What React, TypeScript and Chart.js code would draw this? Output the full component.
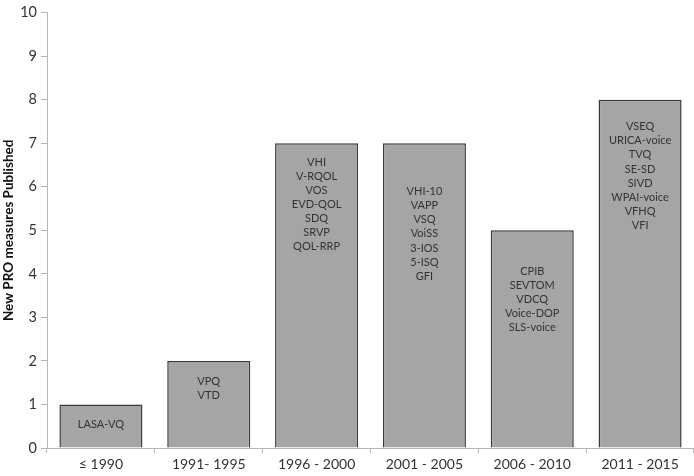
import React, { useEffect, useRef } from "react";
import { Chart, registerables } from "chart.js";

Chart.register(...registerables);

const categories = ["≤ 1990", "1991- 1995", "1996 - 2000", "2001 - 2005", "2006 - 2010", "2011 - 2015"];
const counts = [1, 2, 7, 7, 5, 8];
const measures: string[][] = [
  ["LASA-VQ"],
  ["VPQ", "VTD"],
  ["VHI", "V-RQOL", "VOS", "EVD-QOL", "SDQ", "SRVP", "QOL-RRP"],
  ["VHI-10", "VAPP", "VSQ", "VoiSS", "3-IOS", "5-ISQ", "GFI"],
  ["CPIB", "SEVTOM", "VDCQ", "Voice-DOP", "SLS-voice"],
  ["VSEQ", "URICA-voice", "TVQ", "SE-SD", "SIVD", "WPAI-voice", "VFHQ", "VFI"],
];
// value (y-axis units) at which the first label line sits inside each bar
const labelStart = [0.54, 1.53, 6.57, 5.89, 4.06, 7.38];

const FONT = "Lato, 'Open Sans', sans-serif";

const barText = {
  id: "barText",
  afterDatasetsDraw(chart: any) {
    const ctx = chart.ctx;
    const meta = chart.getDatasetMeta(0);
    const y = chart.scales.y;
    ctx.save();
    ctx.font = `11px ${FONT}`;
    ctx.fillStyle = "#333333";
    ctx.textAlign = "center";
    ctx.textBaseline = "middle";
    meta.data.forEach((bar: any, i: number) => {
      const y0 = y.getPixelForValue(labelStart[i]);
      measures[i].forEach((t, j) => {
        ctx.fillText(t, bar.x, y0 + j * 14.1);
      });
    });
    ctx.restore();
  },
};

export default function App() {
  const ref = useRef<HTMLCanvasElement>(null);
  useEffect(() => {
    document.body.style.margin = "0";
    const chart = new Chart(ref.current!, {
      type: "bar",
      data: {
        labels: categories,
        datasets: [
          {
            data: counts,
            backgroundColor: "#a5a5a5",
            borderColor: "#3a3a3a",
            borderWidth: 1.5,
            barPercentage: 0.77,
            categoryPercentage: 1,
          },
        ],
      },
      options: {
        animation: false,
        responsive: false,
        layout: { padding: { top: 5, right: 0, left: 0, bottom: 0 } },
        plugins: { legend: { display: false }, tooltip: { enabled: false } },
        scales: {
          x: {
            offset: true,
            border: { color: "#b5b5b5", width: 1 },
            grid: { display: true, drawOnChartArea: false, offset: true, tickLength: 5, color: "#b5b5b5" },
            ticks: { font: { family: FONT, size: 14 }, color: "#333333", padding: 3, maxRotation: 0 },
            afterFit: (s: any) => {
              s.height = 28;
            },
          },
          y: {
            min: 0,
            max: 10,
            border: { color: "#b5b5b5", width: 1 },
            grid: { display: true, drawOnChartArea: false, tickLength: 6, color: "#b5b5b5" },
            ticks: { stepSize: 1, font: { family: FONT, size: 14.5 }, color: "#333333", padding: 4 },
            title: {
              display: true,
              text: "New PRO measures Published",
              font: { family: FONT, size: 13.5, weight: "bold" },
              color: "#111111",
              padding: { top: 1, bottom: 0 },
            },
            afterFit: (s: any) => {
              s.width = 47;
            },
          },
        },
      },
      plugins: [barText],
    });
    return () => chart.destroy();
  }, []);
  return (
    <div style={{ position: "absolute", left: 0, top: 0, width: 694, height: 476 }}>
      <canvas ref={ref} width={694} height={476} />
    </div>
  );
}
